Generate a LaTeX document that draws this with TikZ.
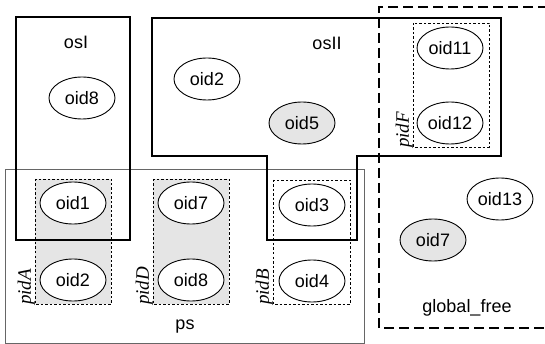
\documentclass[tikz,border=0pt]{standalone}
\usepackage{fontspec}
\usetikzlibrary{shapes.geometric}
\setmainfont{Liberation Sans}
\newfontfamily\pidfont{Liberation Serif}
\begin{document}
\begin{tikzpicture}[x=1pt,y=-1pt,
  obj/.style={ellipse,draw=black,line width=0.9pt,fill=white,minimum width=66pt,minimum height=42pt,inner sep=0pt,font=\fontsize{18}{20}\selectfont},
  sobj/.style={obj,fill=black!10},
  lbl/.style={font=\fontsize{18}{20}\selectfont,inner sep=0pt},
  pidlbl/.style={font=\fontsize{19}{20}\selectfont\pidfont\itshape,rotate=90,inner sep=0pt,anchor=south west},
  pidbox/.style={draw=black,line width=0.9pt,dash pattern=on 2.5pt off 2pt},
  osline/.style={draw=black,line width=2.6pt,line join=miter},
]
\useasboundingbox (0,0) rectangle (545,344);
% ps
\draw[black!60,line width=0.9pt] (5,169) rectangle (364,343);
% pid boxes
\draw[pidbox,fill=black!10] (35,179) rectangle (111,304);
\draw[pidbox,fill=black!10] (153,179) rectangle (229,304);
\draw[pidbox,fill=white] (273,180) rectangle (350,304);
\draw[pidbox,fill=white] (413,23) rectangle (489,147);
% osI and osII
\draw[osline] (16,17) rectangle (130,240);
\draw[osline] (152,18) -- (501,18) -- (501,156) -- (357,156) -- (357,240) -- (267,240) -- (267,156) -- (152,156) -- cycle;
% global_free
\draw[line width=2.4pt,dash pattern=on 10pt off 5pt] (548,7) -- (379,7) -- (379,328) -- (548,328);
% labels
\node[lbl] (osI) at (76,42) {osI};
\node[lbl] (osII) at (327,43) {osII};
\node[lbl] (ps) at (185,327) {ps};
\node[lbl] (gf) at (467,308) {global\_free};
\node[pidlbl] (pidA) at (35,305) {pidA};
\node[pidlbl] (pidD) at (153,305) {pidD};
\node[pidlbl] (pidB) at (273,305) {pidB};
\node[pidlbl] (pidF) at (413,148) {pidF};
% objects
\node[obj] (o8a) at (82,98) {oid8};
\node[obj] (o2a) at (207,79) {oid2};
\node[sobj] (o5) at (302,123) {oid5};
\node[obj] (o11) at (450,48) {oid11};
\node[obj] (o12) at (450,123) {oid12};
\node[obj] (o1) at (73,203) {oid1};
\node[obj] (o2) at (73,280) {oid2};
\node[obj] (o7) at (191,203) {oid7};
\node[obj] (o8) at (191,280) {oid8};
\node[obj] (o3) at (312,205) {oid3};
\node[obj] (o4) at (312,281) {oid4};
\node[obj] (o13) at (500,199) {oid13};
\node[sobj] (o7f) at (433,240) {oid7};
\end{tikzpicture}
\end{document}
